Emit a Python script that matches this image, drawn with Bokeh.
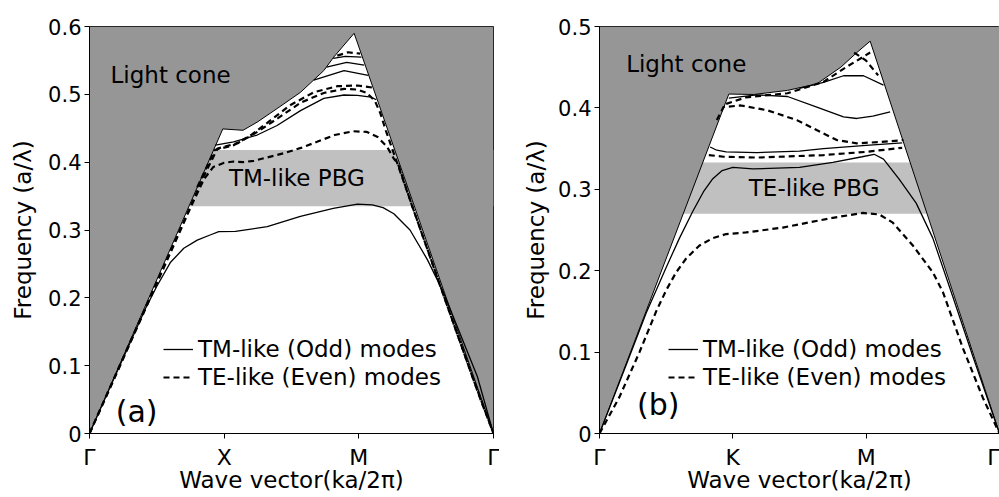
from bokeh.plotting import figure
from bokeh.layouts import row
from bokeh.models import Legend, LegendItem, Label, FixedTicker, Range1d
from bokeh.embed import file_html
from bokeh.resources import INLINE

FONT = "DejaVu Sans"
CONE = "#969696"
GAP = "#c0c0c0"

# ---------------- panel (a): square lattice ----------------
a_ticks = ["Γ", "X", "M", "Γ"]
a_yticks = [0, 0.1, 0.2, 0.3, 0.4, 0.5, 0.6]
a_pbg = (0.335, 0.418)
a_cone_x = [0, 0.99, 1.14, 1.245, 1.393, 1.567, 1.74, 1.814, 1.965, 3.0]
a_cone_f = [0, 0.449, 0.447, 0.459, 0.479, 0.503, 0.535, 0.555, 0.590, 0.0]

a_tm1_x = [0, 0.15, 0.3, 0.42, 0.5, 0.6, 0.7, 0.8, 0.9, 0.96, 1.084, 1.32, 1.566, 1.81, 1.99, 2.1, 2.18, 2.26, 2.38, 2.51, 2.63, 2.75, 2.88, 3.0]
a_tm1_f = [0, 0.067, 0.133, 0.186, 0.217, 0.252, 0.273, 0.285, 0.293, 0.2975, 0.298, 0.305, 0.320, 0.332, 0.338, 0.337, 0.333, 0.324, 0.300, 0.256, 0.207, 0.148, 0.084, 0.0]
a_tm2_x = [0.935, 1.07, 1.245, 1.393, 1.567, 1.74, 1.89, 1.99, 2.09, 2.13]
a_tm2_f = [0.425, 0.430, 0.440, 0.454, 0.476, 0.494, 0.499, 0.4985, 0.496, 0.492]
a_tm3_x = [1.665, 1.89, 2.07]
a_tm3_f = [0.521, 0.535, 0.528]
a_tm4_x = [1.76, 1.91, 2.04]
a_tm4_f = [0.540, 0.547, 0.543]
a_tm5_x = [1.81, 1.90, 2.02]
a_tm5_f = [0.553, 0.556, 0.555]

a_te1_x = [0, 0.2, 0.4, 0.6, 0.75, 0.85, 0.92, 1.0, 1.07, 1.14, 1.22, 1.3, 1.44, 1.57, 1.69, 1.82, 1.96, 2.06, 2.14, 2.21, 2.26, 2.29, 2.4, 2.55, 2.7, 2.85, 3.0]
a_te1_f = [0, 0.088, 0.177, 0.266, 0.333, 0.375, 0.393, 0.399, 0.401, 0.400, 0.402, 0.406, 0.413, 0.421, 0.430, 0.440, 0.4456, 0.4446, 0.437, 0.4225, 0.405, 0.398, 0.333, 0.249, 0.164, 0.080, 0.0]
a_te2_x = [0, 0.3, 0.6, 0.75, 0.85, 0.95, 1.1, 1.25, 1.4, 1.57, 1.74, 1.89, 1.99, 2.06, 2.12, 2.16, 2.2, 2.3, 2.45, 2.6, 2.75, 2.9, 3.0]
a_te2_f = [0, 0.134, 0.268, 0.335, 0.380, 0.420, 0.428, 0.445, 0.465, 0.488, 0.502, 0.508, 0.507, 0.502, 0.490, 0.472, 0.447, 0.390, 0.305, 0.220, 0.136, 0.052, 0.0]
a_te3_x = [0.80, 0.93, 1.07, 1.2, 1.32, 1.49, 1.665, 1.84, 1.99, 2.10]
a_te3_f = [0.363, 0.418, 0.425, 0.440, 0.458, 0.484, 0.503, 0.512, 0.513, 0.510]
a_te4_x = [1.84, 1.92, 2.01]
a_te4_f = [0.557, 0.562, 0.560]

# ---------------- panel (b): triangular lattice ----------------
b_ticks = ["Γ", "K", "M", "Γ"]
b_yticks = [0, 0.1, 0.2, 0.3, 0.4, 0.5]
b_pbg = (0.270, 0.333)
b_cone_x = [0, 0.97, 1.157, 1.41, 1.63, 1.81, 1.93, 2.03, 3.0]
b_cone_f = [0, 0.417, 0.4165, 0.4215, 0.4295, 0.45, 0.468, 0.482, 0.0]

b_tm1_x = [0, 0.2, 0.35, 0.5, 0.6, 0.7, 0.78, 0.85, 0.92, 1.0, 1.15, 1.5, 1.75, 1.97, 2.06, 2.13, 2.25, 2.375, 2.5, 2.65, 2.8, 2.92, 3.0]
b_tm1_f = [0, 0.084, 0.148, 0.204, 0.240, 0.273, 0.297, 0.313, 0.323, 0.327, 0.325, 0.327, 0.333, 0.340, 0.343, 0.337, 0.312, 0.283, 0.240, 0.168, 0.095, 0.038, 0.0]
b_tm2_x = [0.83, 0.88, 0.95, 1.18, 1.5, 1.68, 2.0, 2.27]
b_tm2_f = [0.352, 0.348, 0.346, 0.345, 0.347, 0.350, 0.354, 0.357]
b_tm3_x = [0.97, 1.18, 1.41, 1.63, 1.83, 1.93, 2.05, 2.18]
b_tm3_f = [0.412, 0.416, 0.414, 0.401, 0.389, 0.387, 0.390, 0.395]
b_tm4_x = [1.5, 1.68, 1.83, 1.98, 2.13]
b_tm4_f = [0.424, 0.4315, 0.4395, 0.4395, 0.428]

b_te1_x = [0, 0.15, 0.3, 0.425, 0.5, 0.575, 0.65, 0.75, 0.85, 0.95, 1.1, 1.375, 1.75, 1.975, 2.1, 2.2, 2.35, 2.5, 2.575, 2.725, 2.875, 3.0]
b_te1_f = [0, 0.045, 0.100, 0.150, 0.176, 0.198, 0.215, 0.231, 0.240, 0.245, 0.247, 0.253, 0.265, 0.271, 0.269, 0.259, 0.231, 0.198, 0.174, 0.105, 0.044, 0.0]
b_te2_x = [0.82, 0.93, 1.18, 1.68, 2.0, 2.27]
b_te2_f = [0.342, 0.340, 0.339, 0.342, 0.346, 0.351]
b_te3_x = [0.88, 0.93, 1.06, 1.26, 1.48, 1.68, 1.78, 1.93, 2.1, 2.28]
b_te3_f = [0.385, 0.401, 0.403, 0.397, 0.385, 0.3685, 0.3605, 0.3565, 0.358, 0.3605]
b_te4_x = [0.95, 1.1, 1.41, 1.68, 1.83, 1.93, 2.03]
b_te4_f = [0.405, 0.413, 0.418, 0.432, 0.448, 0.458, 0.468]
b_te5_x = [1.91, 2.0, 2.09]
b_te5_f = [0.468, 0.458, 0.440]


def panel(width, left, right, top, bottom, ymax, yticks, xticks, pbg, cone_x, cone_f,
          tm, te, pbg_text, pbg_pos, cone_pos, tag, tag_pos, legend_loc, legend_spacing,
          ylab_standoff):
    p = figure(width=width, height=497, x_range=Range1d(0, 3), y_range=Range1d(0, ymax),
               output_backend="svg", toolbar_location=None,
               min_border_left=left, min_border_right=right,
               min_border_top=top, min_border_bottom=bottom)
    p.xgrid.visible = False
    p.ygrid.visible = False
    p.outline_line_color = "black"
    p.outline_line_width = 1
    p.background_fill_color = "white"
    p.border_fill_color = "white"

    # photonic band gap
    p.quad(left=[0], right=[3], bottom=[pbg[0]], top=[pbg[1]], fill_color=GAP, line_color=None)
    # light cone
    px = [0] + list(cone_x) + [3, 0]
    py = [ymax] + list(cone_f) + [ymax, ymax]
    p.patch(px, py, fill_color=CONE, line_color=None)
    p.line(cone_x, cone_f, line_color="black", line_width=1)

    solid = []
    for xs, fs in tm:
        solid.append(p.line(xs, fs, line_color="black", line_width=1.3))
    dashed = []
    for xs, fs in te:
        dashed.append(p.line(xs, fs, line_color="black", line_width=2.2, line_dash="6 4"))

    # axes
    p.xaxis.ticker = FixedTicker(ticks=[0, 1, 2, 3])
    p.xaxis.major_label_overrides = {i: t for i, t in enumerate(xticks)}
    p.yaxis.ticker = FixedTicker(ticks=yticks)
    p.yaxis.major_label_overrides = {0: "0"}
    for ax in (p.xaxis[0], p.yaxis[0]):
        ax.axis_line_color = "black"
        ax.major_tick_line_color = "black"
        ax.major_tick_out = 5
        ax.major_tick_in = 0
        ax.minor_tick_line_color = None
        ax.major_label_text_font = FONT
        ax.major_label_text_color = "black"
        ax.axis_label_text_font = FONT
        ax.axis_label_text_font_style = "normal"
        ax.axis_label_text_font_size = "23px"
        ax.axis_label_text_color = "black"
    p.xaxis.major_label_text_font_size = "22px"
    p.xaxis.major_label_standoff = 6
    p.yaxis.major_label_text_font_size = "21px"
    p.yaxis.major_label_standoff = 3
    p.xaxis.axis_label = "Wave vector(ka/2π)"
    p.xaxis.axis_label_standoff = -6
    p.yaxis.axis_label = "Frequency (a/λ)"
    p.yaxis.axis_label_standoff = ylab_standoff

    p.add_layout(Label(x=cone_pos[0], y=cone_pos[1], text="Light cone", text_font=FONT,
                       text_font_size="23px", text_baseline="middle", text_color="black"))
    p.add_layout(Label(x=pbg_pos[0], y=pbg_pos[1], text=pbg_text, text_font=FONT,
                       text_font_size="23px", text_align="center", text_baseline="middle",
                       text_color="black"))
    p.add_layout(Label(x=tag_pos[0], y=tag_pos[1], text=tag, text_font=FONT,
                       text_font_size="30px", text_align="center", text_baseline="middle",
                       text_color="black"))

    legend = Legend(items=[LegendItem(label="TM-like (Odd) modes", renderers=[solid[0]]),
                           LegendItem(label="TE-like (Even) modes", renderers=[dashed[0]])],
                    location=legend_loc, glyph_width=30, glyph_height=20, label_height=20,
                    label_standoff=5, spacing=legend_spacing, padding=0, margin=0,
                    border_line_alpha=0, background_fill_alpha=0,
                    label_text_font=FONT, label_text_font_size="23px", label_text_color="black")
    p.add_layout(legend)
    return p


pa = panel(499, 89, 6, 26, 63, 0.6, a_yticks, a_ticks, a_pbg, a_cone_x, a_cone_f,
           [(a_tm1_x, a_tm1_f), (a_tm2_x, a_tm2_f), (a_tm3_x, a_tm3_f), (a_tm4_x, a_tm4_f), (a_tm5_x, a_tm5_f)],
           [(a_te1_x, a_te1_f), (a_te2_x, a_te2_f), (a_te3_x, a_te3_f), (a_te4_x, a_te4_f)],
           "TM-like PBG", (1.54, 0.376), (0.156, 0.528), "(a)", (0.35, 0.032), (74, 43), 2, 9)

pb = panel(500, 100, 0, 22, 64, 0.5, b_yticks, b_ticks, b_pbg, b_cone_x, b_cone_f,
           [(b_tm1_x, b_tm1_f), (b_tm2_x, b_tm2_f), (b_tm3_x, b_tm3_f), (b_tm4_x, b_tm4_f)],
           [(b_te1_x, b_te1_f), (b_te2_x, b_te2_f), (b_te3_x, b_te3_f), (b_te4_x, b_te4_f), (b_te5_x, b_te5_f)],
           "TE-like PBG", (1.61, 0.302), (0.2, 0.454), "(b)", (0.44, 0.036), (69, 43), 2, 6)

layout = row(pa, pb, spacing=0)
open("out.html", "w").write(file_html(layout, INLINE))
